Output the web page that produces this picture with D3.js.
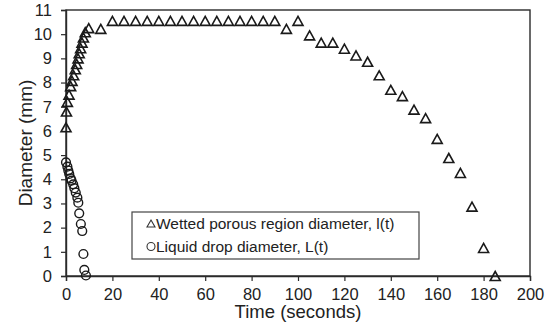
<!DOCTYPE html>
<html>
<head>
<meta charset="utf-8">
<script src="https://cdn.jsdelivr.net/npm/d3@7"></script>
<style>
  html, body { margin: 0; padding: 0; background: #fff; }
  svg { display: block; font-family: "Liberation Sans", Arial, sans-serif; }
</style>
</head>
<body>
<svg id="chart" width="552" height="333"></svg>
<script>
// Wetted porous region diameter l(t): time (s) and diameter (mm)
const wettedTime = [0, 0.2, 0.6, 1.3, 2.0, 2.6, 3.3, 4.0, 4.6, 5.2, 5.7, 6.3, 6.9, 7.5, 8.3, 9.8, 15,
  20, 25, 30, 35, 40, 45, 50, 55, 60, 65, 70, 75, 80, 85, 90,
  95, 100, 105, 110, 115, 120, 125, 130, 135, 140, 145, 150, 155, 160, 165, 170, 175, 180, 185];
const wettedDiam = [6.15, 6.8, 7.2, 7.5, 7.85, 8.07, 8.3, 8.55, 8.77, 9.0, 9.21, 9.42, 9.65, 9.86, 10.08, 10.25, 10.22,
  10.55, 10.55, 10.55, 10.55, 10.55, 10.55, 10.55, 10.55, 10.55, 10.55, 10.55, 10.55, 10.55, 10.55, 10.55,
  10.22, 10.55, 9.95, 9.65, 9.65, 9.4, 9.12, 8.86, 8.3, 7.7, 7.44, 6.88, 6.53, 5.67, 4.88, 4.26, 2.87, 1.16, 0];

// Liquid drop diameter L(t)
const dropTime = [0, 0.6, 1.0, 1.4, 2.0, 2.4, 3.1, 3.6, 4.2, 4.9, 5.3, 5.7, 6.4, 7.0, 7.5, 7.9, 8.6];
const dropDiam = [4.7, 4.52, 4.36, 4.22, 4.04, 3.94, 3.79, 3.63, 3.45, 3.24, 3.03, 2.59, 2.15, 1.86, 0.91, 0.25, 0.02];

const xTicks = [0, 20, 40, 60, 80, 100, 120, 140, 160, 180, 200];
const yTicks = [0, 1, 2, 3, 4, 5, 6, 7, 8, 9, 10, 11];
const legendLabels = ["Wetted porous region diameter, l(t)", "Liquid drop diameter, L(t)"];

const svg = d3.select("#chart");
const plot = { left: 66, right: 530, top: 10, bottom: 276 };
const ink = "#2a2a2a";

const x = d3.scaleLinear().domain([0, 200]).range([plot.left, plot.right]);
const y = d3.scaleLinear().domain([0, 11]).range([plot.bottom, plot.top]);

// plot frame
svg.append("rect")
  .attr("x", plot.left).attr("y", plot.top)
  .attr("width", plot.right - plot.left).attr("height", plot.bottom - plot.top)
  .attr("fill", "none").attr("stroke", ink).attr("stroke-width", 1.4);

// axes
const xAxis = svg.append("g")
  .attr("transform", `translate(0,${plot.bottom})`)
  .call(d3.axisBottom(x).tickValues(xTicks).tickSize(5).tickPadding(7).tickFormat(d3.format("d")));
const yAxis = svg.append("g")
  .attr("transform", `translate(${plot.left},0)`)
  .call(d3.axisLeft(y).tickValues(yTicks).tickSize(5).tickPadding(9).tickFormat(d3.format("d")));

[xAxis, yAxis].forEach(g => {
  g.select(".domain").attr("stroke", ink).attr("stroke-width", 1.4);
  g.selectAll(".tick line").attr("stroke", ink).attr("stroke-width", 1.2);
  g.selectAll(".tick text")
    .attr("fill", "#222")
    .style("font-size", "16.5px")
    .style("font-family", "'Liberation Sans', Arial, sans-serif");
});

// axis titles
svg.append("text")
  .attr("x", (plot.left + plot.right) / 2).attr("y", 318)
  .attr("text-anchor", "middle")
  .attr("fill", "#222")
  .style("font-size", "18.5px")
  .text("Time (seconds)");
svg.append("text")
  .attr("transform", `translate(32,${(plot.top + plot.bottom) / 2}) rotate(-90)`)
  .attr("text-anchor", "middle")
  .attr("fill", "#222")
  .style("font-size", "19px")
  .text("Diameter (mm)");

// open triangle marker, centred on its bounding box
function tri(w, h) {
  return `M0,${-h / 2}L${w / 2},${h / 2}L${-w / 2},${h / 2}Z`;
}

const wetted = wettedTime.map((t, i) => ({ t, d: wettedDiam[i] }));
const drop = dropTime.map((t, i) => ({ t, d: dropDiam[i] }));

svg.append("g").selectAll("path")
  .data(wetted)
  .join("path")
  .attr("d", tri(10, 9))
  .attr("transform", p => `translate(${x(p.t)},${y(p.d)})`)
  .attr("fill", "none")
  .attr("stroke", "#1a1a1a")
  .attr("stroke-width", 1.6)
  .attr("stroke-linejoin", "miter");

svg.append("g").selectAll("circle")
  .data(drop)
  .join("circle")
  .attr("cx", p => x(p.t))
  .attr("cy", p => y(p.d))
  .attr("r", 4.4)
  .attr("fill", "none")
  .attr("stroke", "#1a1a1a")
  .attr("stroke-width", 1.4);

// legend
const lg = svg.append("g");
lg.append("rect")
  .attr("x", 132).attr("y", 212)
  .attr("width", 287).attr("height", 47)
  .attr("fill", "#fff").attr("stroke", "#444").attr("stroke-width", 1.2);
lg.append("path")
  .attr("d", tri(8, 7))
  .attr("transform", "translate(151,223.5)")
  .attr("fill", "none").attr("stroke", "#333").attr("stroke-width", 1.1);
lg.append("circle")
  .attr("cx", 151).attr("cy", 246.5).attr("r", 4)
  .attr("fill", "none").attr("stroke", "#333").attr("stroke-width", 1.1);
lg.selectAll("text.lab")
  .data(legendLabels)
  .join("text")
  .attr("class", "lab")
  .attr("x", 156)
  .attr("y", (d, i) => 229 + i * 23.3)
  .attr("fill", "#222")
  .style("font-size", "15.5px")
  .text(d => d);
</script>
</body>
</html>
